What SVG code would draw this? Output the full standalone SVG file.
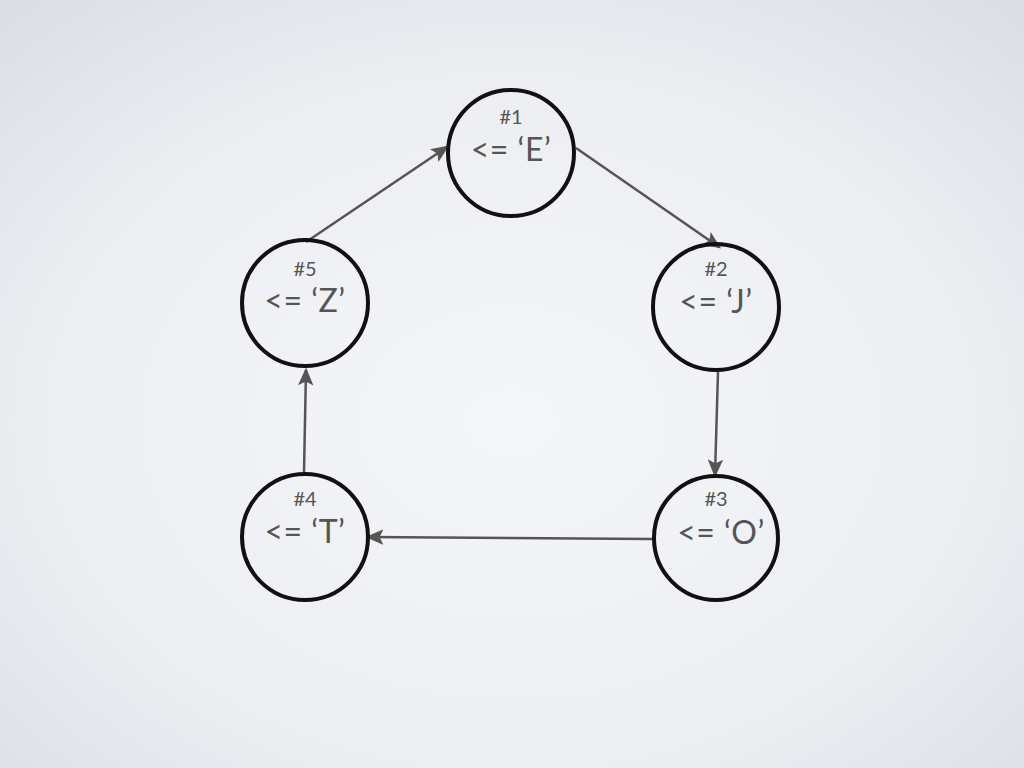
<svg xmlns="http://www.w3.org/2000/svg" width="1024" height="768" viewBox="0 0 1024 768">
<defs>
<radialGradient id="bg" cx="50%" cy="55%" r="75%">
<stop offset="0" stop-color="#f5f6f8"/>
<stop offset="0.6" stop-color="#eceef2"/>
<stop offset="1" stop-color="#d9dde4"/>
</radialGradient>
<marker id="arr" viewBox="0 0 14 14" refX="12" refY="7" markerWidth="18" markerHeight="18" orient="auto" markerUnits="userSpaceOnUse">
<path d="M0,1 L14,7 L0,13 L3,7 Z" fill="#555"/>
</marker>
</defs>
<style>
.node circle{fill:none;stroke:#111;stroke-width:4}
.num{font-family:Lato,"Open Sans",sans-serif;font-size:20px;fill:#555;text-anchor:middle}
.lbl{font-family:Lato,"Open Sans",sans-serif;font-size:32px;fill:#555;text-anchor:middle;letter-spacing:0.5px}
.edge{stroke:#555;stroke-width:2.5;fill:none;marker-end:url(#arr)}
</style>
<rect width="1024" height="768" fill="url(#bg)"/>
<g id="connectors">
<line class="edge" x1="576" y1="148" x2="719" y2="247"/>
<line class="edge" x1="718" y1="372" x2="715" y2="475"/>
<line class="edge" x1="652" y1="539" x2="368" y2="537"/>
<line class="edge" x1="304" y1="472" x2="306" y2="370"/>
<line class="edge" x1="306" y1="242" x2="447" y2="147"/>
</g>
<g id="node1" class="node"><circle cx="511" cy="153" r="63"/><text class="num" x="511" y="124">#1</text><text class="lbl" x="511" y="161">&lt;= ‘E’</text></g>
<g id="node2" class="node"><circle cx="716" cy="307" r="63"/><text class="num" x="716" y="276">#2</text><text class="lbl" x="716" y="313">&lt;= ‘J’</text></g>
<g id="node3" class="node"><circle cx="716" cy="538" r="62"/><text class="num" x="716" y="506">#3</text><text class="lbl" x="721" y="544">&lt;= ‘O’</text></g>
<g id="node4" class="node"><circle cx="305" cy="537" r="63"/><text class="num" x="305" y="506">#4</text><text class="lbl" x="305" y="543">&lt;= ‘T’</text></g>
<g id="node5" class="node"><circle cx="305" cy="303" r="63"/><text class="num" x="305" y="276">#5</text><text class="lbl" x="305" y="312">&lt;= ‘Z’</text></g>
</svg>
